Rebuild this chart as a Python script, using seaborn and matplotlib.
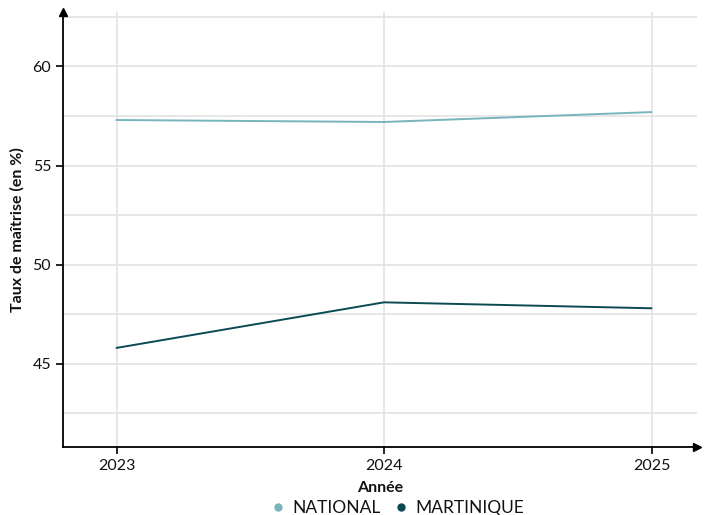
import matplotlib
matplotlib.use("Agg")
import matplotlib.pyplot as plt
import seaborn as sns
import pandas as pd
from matplotlib.lines import Line2D

annees = [2023, 2024, 2025]
national = [57.3, 57.2, 57.7]
martinique = [45.8, 48.1, 47.8]
series_names = ["NATIONAL", "MARTINIQUE"]
colors = {"NATIONAL": "#78b4bd", "MARTINIQUE": "#0b4a52"}

df = pd.DataFrame({
    "Année": annees * 2,
    "Taux": national + martinique,
    "Zone": ["NATIONAL"] * 3 + ["MARTINIQUE"] * 3,
})

sns.set_theme(style="white")
plt.rcParams['font.family'] = ['Lato', 'DejaVu Sans']
plt.rcParams['text.color'] = '#111111'
plt.rcParams['axes.labelcolor'] = '#111111'
plt.rcParams['xtick.color'] = '#111111'
plt.rcParams['ytick.color'] = '#111111'

fig = plt.figure(figsize=(7.07, 5.15), dpi=100)
ax = fig.add_axes([63/707, (515-447)/515, (697-63)/707, (447-12)/515])

sns.lineplot(data=df, x="Année", y="Taux", hue="Zone", palette=colors,
             hue_order=series_names, ax=ax, linewidth=1.4, legend=False, zorder=3)

ax.set_xlim(2022.8, 2025.17)
ax.set_ylim(40.8, 62.75)
ax.set_xticks(annees)
ax.set_xticklabels([str(a) for a in annees], fontsize=11.5)
ax.set_yticks([45, 50, 55, 60])
ax.set_yticks([42.5, 47.5, 52.5, 57.5, 62.5], minor=True)
ax.tick_params(axis='y', which='major', labelsize=11.5, length=5, width=1.2, color='black', left=True)
ax.tick_params(axis='y', which='minor', length=0)
ax.tick_params(axis='x', which='major', labelsize=11.5, length=5, width=1.2, color='black', bottom=True)
ax.grid(True, which='both', axis='y', color='#e3e3e3', linewidth=1.2)
ax.grid(True, which='major', axis='x', color='#e3e3e3', linewidth=1.2)
ax.set_axisbelow(True)

for s in ['top', 'right']:
    ax.spines[s].set_visible(False)
for s in ['left', 'bottom']:
    ax.spines[s].set_color('black')
    ax.spines[s].set_linewidth(1.3)

# arrow heads
ax.plot(1, 0, ">", color='black', markersize=6, transform=ax.transAxes, clip_on=False)
ax.plot(0, 1, "^", color='black', markersize=6, transform=ax.transAxes, clip_on=False)

ax.set_xlabel("Année", fontsize=11.5, fontweight='bold', labelpad=6)
ax.set_ylabel("Taux de maîtrise (en %)", fontsize=11.5, fontweight='bold', labelpad=6)

handles = [Line2D([], [], marker='o', linestyle='none', color=colors[n], markersize=5)
           for n in series_names]
fig.legend(handles, series_names, loc='center', bbox_to_anchor=(0.56, 1 - 508/515),
           ncol=2, frameon=False, fontsize=12.5, handletextpad=0.2, columnspacing=0.6,
           handlelength=1.2, borderaxespad=0, borderpad=0)

fig.savefig("out.png", dpi=100)
